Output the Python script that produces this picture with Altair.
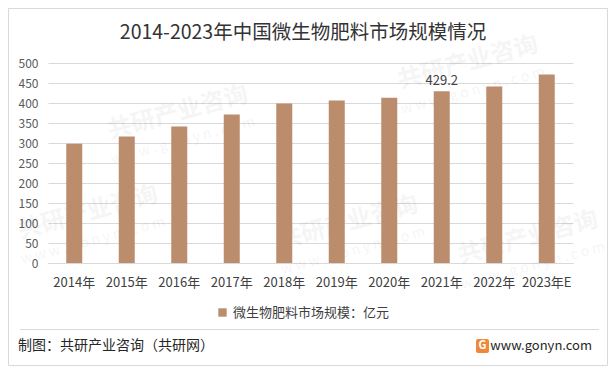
import altair as alt
import pandas as pd

years = ["2014年", "2015年", "2016年", "2017年", "2018年", "2019年", "2020年", "2021年", "2022年", "2023年E"]
values = [298, 316, 341, 371, 399, 406, 413, 429.2, 441, 471]
labels = ["", "", "", "", "", "", "", "429.2", "", ""]
series_name = "微生物肥料市场规模：亿元"
title_text = "2014-2023年中国微生物肥料市场规模情况"
source_text = "制图：共研产业咨询（共研网）"
site_text = "www.gonyn.com"
y_ticks = [0, 50, 100, 150, 200, 250, 300, 350, 400, 450, 500]
wm_text = "共研产业咨询"
wm_site = "w w w . g o n y n . c o m"

FONT = "Noto Sans CJK SC"
BAR = "#BB8D6C"

df = pd.DataFrame({"year": years, "value": values, "label": labels, "series": [series_name] * len(years)})
one = pd.DataFrame({"k": [0]})

x_enc = alt.X("year:N", sort=years, title=None,
              scale=alt.Scale(paddingInner=0, paddingOuter=0),
              axis=alt.Axis(labelAngle=0, labelFontSize=13, labelColor="#404040", labelFont=FONT,
                            labelPadding=13, ticks=False, domainColor="#D9D9D9", grid=False))
y_enc = alt.Y("value:Q", title=None,
              scale=alt.Scale(domain=[0, 500], nice=False),
              axis=alt.Axis(values=y_ticks, labelFontSize=12, labelColor="#595959", labelFont=FONT,
                            labelPadding=10, ticks=False, domain=False, gridColor="#D9D9D9",
                            labelOverlap=False))

base = alt.Chart(df)

bars = base.mark_bar(size=16).encode(
    x=x_enc,
    y=y_enc,
    color=alt.Color("series:N", scale=alt.Scale(range=[BAR]),
                    legend=alt.Legend(orient="none", legendX=168, legendY=243, title=None,
                                      symbolType="square", symbolSize=70, labelFontSize=13,
                                      labelColor="#404040", labelFont=FONT, direction="horizontal")),
)

value_text = base.mark_text(dy=-10, fontSize=13, color="#404040", font=FONT).encode(
    x=x_enc,
    y=y_enc,
    text="label:N",
)

border = alt.Chart(one).mark_rect(fillOpacity=0, stroke="#D9D9D9", strokeWidth=1).encode(
    x=alt.value(-39.5), x2=alt.value(559.5), y=alt.value(-54.5), y2=alt.value(302.5)
)

sep = alt.Chart(one).mark_rule(color="#D9D9D9", strokeWidth=1).encode(
    x=alt.value(-28), x2=alt.value(551), y=alt.value(266.5)
)

title = alt.Chart(one).mark_text(fontSize=19.5, color="#333333", font=FONT, align="center", baseline="middle").encode(
    x=alt.value(255), y=alt.value(-30), text=alt.value(title_text)
)

source = alt.Chart(one).mark_text(fontSize=14, color="#262626", font=FONT, align="left", baseline="middle").encode(
    x=alt.value(-30), y=alt.value(283), text=alt.value(source_text)
)

site = alt.Chart(one).mark_text(fontSize=13, color="#262626", font=FONT, align="right", baseline="middle").encode(
    x=alt.value(544), y=alt.value(283), text=alt.value(site_text)
)

logo = alt.Chart(one).mark_rect(color="#F0883A", cornerRadius=2).encode(
    x=alt.value(428), x2=alt.value(441), y=alt.value(276), y2=alt.value(290)
)
logo_g = alt.Chart(one).mark_text(fontSize=11, color="white", font=FONT, fontWeight="bold",
                                  align="center", baseline="middle").encode(
    x=alt.value(434.5), y=alt.value(283), text=alt.value("G")
)

def watermark(cx, cy):
    t1 = alt.Chart(one).mark_text(fontSize=24, fontWeight="bold", color="#000000", opacity=0.035,
                                  font=FONT, angle=345, align="center", baseline="middle").encode(
        x=alt.value(cx), y=alt.value(cy), text=alt.value(wm_text))
    t2 = alt.Chart(one).mark_text(fontSize=14, color="#000000", opacity=0.035,
                                  font=FONT, angle=345, align="center", baseline="middle").encode(
        x=alt.value(cx + 5), y=alt.value(cy + 28), text=alt.value(wm_site))
    return [t1, t2]

wms = []
for cx, cy in [(130, 50), (420, 0), (40, 150), (300, 160), (480, 175)]:
    wms += watermark(cx, cy)

chart = alt.layer(border, sep, *wms, bars, value_text, title, source, site, logo, logo_g).properties(
    width=525, height=200,
    autosize=alt.AutoSizeParams(type="none"),
    padding={"left": 40, "top": 55, "right": 35, "bottom": 103},
    background="white",
).configure_view(stroke=None)

chart.save("out.html", embed_options={"renderer": "svg", "actions": False})
